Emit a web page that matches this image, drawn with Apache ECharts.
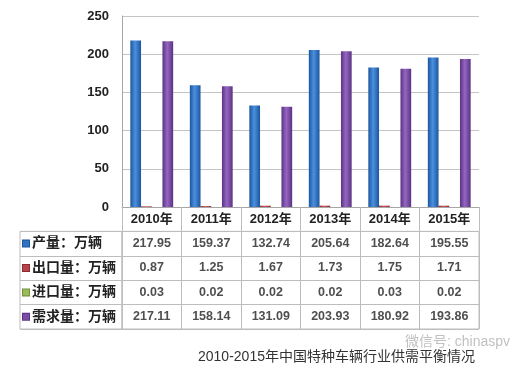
<!DOCTYPE html>
<html><head><meta charset="utf-8">
<script src="https://cdn.jsdelivr.net/npm/echarts@6/dist/echarts.min.js"></script>
<style>html,body{margin:0;padding:0;background:#fff}#c{width:522px;height:368px}</style>
</head><body><div id="c"></div>
<script>
var years = ['2010年','2011年','2012年','2013年','2014年','2015年'];
var production = [217.95,159.37,132.74,205.64,182.64,195.55];
var exportsQ = [0.87,1.25,1.67,1.73,1.75,1.71];
var importsQ = [0.03,0.02,0.02,0.02,0.03,0.02];
var demand = [217.11,158.14,131.09,203.93,180.92,193.86];
var seriesNames = ['产量：万辆','出口量：万辆','进口量：万辆','需求量：万辆'];
var yMin = 0, yMax = 250, yStep = 50;
var caption = '2010-2015年中国特种车辆行业供需平衡情况';
var watermark = '微信号: chinaspv';

var FONT = "'Liberation Sans','Noto Sans CJK SC',sans-serif";
var colors = ['#2e72c4','#b8434a','#9bbb59','#7b4ca6'];
var grads = [
  ['#1d559c','#4a90e0','#1d559c'],
  ['#8e2b30','#d0575d','#8e2b30'],
  ['#73903a','#b2d070','#73903a'],
  ['#5b3282','#9466c2','#5b3282']
];
function grad(k){
  return new echarts.graphic.LinearGradient(0,0,1,0,[
    {offset:0,color:grads[k][0]},{offset:0.45,color:grads[k][1]},{offset:1,color:grads[k][2]}]);
}
var allSeries = [production, exportsQ, importsQ, demand];
var cells = [];
for (var r = 0; r < allSeries.length; r++) {
  for (var i = 0; i < years.length; i++) {
    cells.push([i, r, allSeries[r][i].toFixed(2)]);
  }
}
var rich = {t:{fontSize:14,fontWeight:'bold',color:'#222',fontFamily:FONT,padding:[0,0,0,3]}};
for (var k = 0; k < 4; k++) {
  rich['s'+k] = {width:6,height:6,backgroundColor:colors[k],borderColor:grads[k][0],borderWidth:1};
}
var lineC = '#bdbdbd';
var chart = echarts.init(document.getElementById('c'));
chart.setOption({
  backgroundColor:'#fff',
  animation:false,
  title:{text:caption,left:193,top:345,textStyle:{fontSize:14,fontWeight:'normal',color:'#333',fontFamily:FONT}},
  graphic:[{type:'text',left:405,top:335,style:{text:watermark,fill:'rgba(140,140,140,0.55)',fontSize:14,fontFamily:FONT}}],
  grid:[
    {left:122,right:43,top:16,bottom:161},
    {left:122,right:43,top:231.4,bottom:39,show:true,borderColor:lineC,borderWidth:1},
    {left:20,width:102,top:231.4,bottom:39,show:true,borderColor:lineC,borderWidth:1}
  ],
  xAxis:[
    {type:'category',gridIndex:0,data:years,
      axisLine:{lineStyle:{color:'#a6a6a6'}},
      axisTick:{show:true,length:24.4,interval:0,lineStyle:{color:lineC}},
      axisLabel:{margin:6,fontSize:13,fontWeight:'bold',color:'#222',fontFamily:FONT,interval:0}},
    {type:'category',gridIndex:1,data:years,
      axisLine:{show:false},axisTick:{show:false},axisLabel:{show:false},
      splitLine:{show:true,interval:0,lineStyle:{color:lineC}}},
    {type:'value',gridIndex:2,show:false,min:0,max:1}
  ],
  yAxis:[
    {type:'value',gridIndex:0,min:yMin,max:yMax,interval:yStep,
      axisLine:{show:true,lineStyle:{color:'#a6a6a6'}},axisTick:{show:false},
      splitLine:{lineStyle:{color:'#c4c4c4'}},
      axisLabel:{margin:13,fontSize:13,fontWeight:'bold',color:'#222',fontFamily:FONT}},
    {type:'category',gridIndex:1,data:[0,1,2,3],inverse:true,
      axisLine:{show:false},axisTick:{show:false},axisLabel:{show:false},
      splitLine:{show:true,interval:0,lineStyle:{color:lineC}}},
    {type:'category',gridIndex:2,data:seriesNames,inverse:true,
      axisLine:{show:false},axisTick:{show:false},
      splitLine:{show:true,interval:0,lineStyle:{color:lineC}},
      axisLabel:{inside:true,margin:3,interval:0,
        formatter:function(v,idx){return '{s'+idx+'|}{t|'+v+'}';},rich:rich}}
  ],
  series:[
    {name:seriesNames[0],type:'bar',data:production,barGap:'0%',barCategoryGap:'28%',itemStyle:{color:grad(0)}},
    {name:seriesNames[1],type:'bar',data:exportsQ,itemStyle:{color:grad(1)}},
    {name:seriesNames[2],type:'bar',data:importsQ,itemStyle:{color:grad(2)}},
    {name:seriesNames[3],type:'bar',data:demand,itemStyle:{color:grad(3)}},
    {type:'scatter',xAxisIndex:1,yAxisIndex:1,symbolSize:0,data:cells,silent:true,
      label:{show:true,position:'inside',formatter:function(p){return p.value[2];},
        fontSize:12.5,fontWeight:'bold',color:'#222',fontFamily:FONT}}
  ]
});
</script></body></html>
